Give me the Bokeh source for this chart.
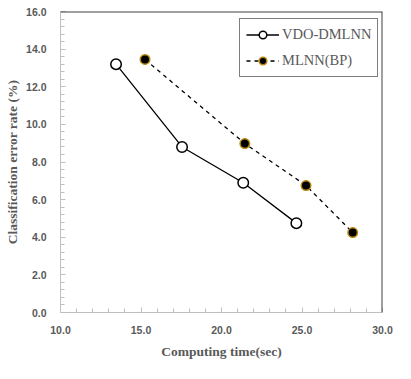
from bokeh.plotting import figure
from bokeh.models import Span, Legend, LegendItem, FixedTicker, Range1d
from bokeh.embed import file_html
from bokeh.resources import INLINE

vdo_x = [13.45, 17.55, 21.35, 24.65]
vdo_y = [13.2, 8.8, 6.9, 4.75]
bp_x = [15.25, 21.45, 25.25, 28.15]
bp_y = [13.45, 8.98, 6.75, 4.25]

x_ticks = [10, 15, 20, 25, 30]
y_ticks = [0, 2, 4, 6, 8, 10, 12, 14, 16]

p = figure(width=395, height=363, output_backend="svg", toolbar_location=None,
           x_range=Range1d(10, 30), y_range=Range1d(0, 16),
           min_border_left=60, min_border_right=13, min_border_top=11, min_border_bottom=51)
p.grid.visible = False
p.outline_line_color = None
p.background_fill_color = "white"
p.border_fill_color = "white"

gray = "#595959"
for ax in (p.xaxis[0], p.yaxis[0]):
    ax.axis_line_color = "#bfbfbf"
    ax.major_tick_line_color = "#bfbfbf"
    ax.minor_tick_line_color = "#bfbfbf"
    ax.major_tick_in = 5
    ax.major_tick_out = 0
    ax.minor_tick_in = 4
    ax.minor_tick_out = 0
    ax.major_label_text_font = "Liberation Sans"
    ax.major_label_text_font_style = "bold"
    ax.major_label_text_font_size = "10.5px"
    ax.major_label_text_color = gray
    ax.axis_label_text_font = "Liberation Serif"
    ax.axis_label_text_font_style = "bold"
    ax.axis_label_text_font_size = "13.5px"
    ax.axis_label_text_color = gray

p.xaxis.ticker = FixedTicker(ticks=x_ticks, minor_ticks=list(range(10, 31)))
p.yaxis.ticker = FixedTicker(ticks=y_ticks, minor_ticks=[i * 0.4 for i in range(41)])
p.xaxis.major_label_overrides = {t: f"{t:.1f}" for t in x_ticks}
p.yaxis.major_label_overrides = {t: f"{t:.1f}" for t in y_ticks}
p.xaxis.major_label_standoff = 13
p.yaxis.major_label_standoff = 14
p.xaxis.axis_label = "Computing time(sec)"
p.yaxis.axis_label = "Classification error rate (%)"
p.xaxis.axis_label_standoff = 7
p.yaxis.axis_label_standoff = 3

p.add_layout(Span(location=16, dimension="width", line_color="#404040", line_width=2))
p.add_layout(Span(location=30, dimension="height", line_color="#404040", line_width=2))

l1 = p.line(vdo_x, vdo_y, line_color="black", line_width=1.3)
c1 = p.scatter(vdo_x, vdo_y, size=10.5, fill_color="white", line_color="black", line_width=1.5)
l2 = p.line(bp_x, bp_y, line_color="black", line_width=1.3, line_dash="4 4")
c2 = p.scatter(bp_x, bp_y, size=9.5, fill_color="black", line_color="#b8860b", line_width=1.5)

legend = Legend(items=[LegendItem(label="VDO-DMLNN", renderers=[l1, c1]),
                       LegendItem(label="MLNN(BP)", renderers=[l2, c2])],
                location=(179, 235), margin=0, padding=6, spacing=7,
                glyph_width=33, glyph_height=19, label_standoff=3,
                border_line_color="black", border_line_width=1.5,
                label_text_font="Liberation Serif", label_text_font_size="14.5px",
                label_text_color=gray, background_fill_alpha=1)
p.add_layout(legend, "center")

open("out.html", "w").write(file_html(p, INLINE))
